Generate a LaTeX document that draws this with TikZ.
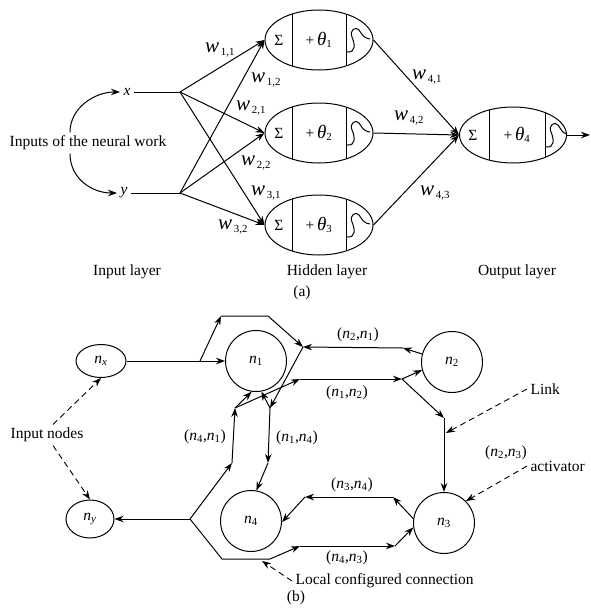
\documentclass[tikz,border=0pt]{standalone}
\usepackage{fontspec}
\setmainfont{Liberation Serif}
\usetikzlibrary{arrows.meta,shapes.geometric}

\tikzset{
  wire/.style={line width=1pt},
  link/.style={line width=1pt,-{Stealth[length=9pt,width=6.5pt]}},
  hint/.style={line width=0.9pt,dash pattern=on 6pt off 4pt,-{Stealth[length=9pt,width=6.5pt]}},
  neuron/.style={draw,line width=1pt,ellipse,minimum width=108pt,minimum height=60pt,inner sep=0pt},
  unit/.style={draw,line width=1pt,circle,minimum size=61pt,inner sep=0pt},
  inode/.style={draw,line width=1pt,ellipse,inner sep=0pt}
}
\newcommand{\wlab}[1]{{\fontsize{21}{21}\selectfont\textit{w}}\textsubscript{\,#1}}
\newcommand{\tlab}[1]{+\,{\fontsize{19}{19}\selectfont\textit{θ}}\textsubscript{#1}}
\newcommand{\nn}[1]{\textit{n}\textsubscript{#1}}

\begin{document}
\begin{tikzpicture}[x=1pt,y=-1pt,font=\fontsize{15.5}{18}\selectfont]
  \useasboundingbox (0,0) rectangle (590,613);

  % (a) the network
  \node (x) at (127,92) {\textit{x}};
  \node (y) at (124,193) {\textit{y}};
  \coordinate (xf) at (180,92);
  \coordinate (yf) at (180,193);
  \draw[wire] (x) -- (xf);
  \draw[wire] (y) -- (yf);

  \foreach \i/\yy in {1/40,2/133,3/225}{
    \node[neuron] (h\i) at (319,\yy) {};
    \begin{scope}
      \clip (319,\yy) ellipse (54pt and 30pt);
      \draw[wire] (292,\yy-30) -- (292,\yy+30);
      \draw[wire] (346,\yy-30) -- (346,\yy+30);
    \end{scope}
    \node at (279,\yy) {Σ};
    \node at (319,\yy) {\tlab{\i}};
    \draw[wire] (347,\yy+12) .. controls (356,\yy+13) and (355,\yy+4) .. (352,\yy-3)
      .. controls (349,\yy-10) and (356,\yy-14) .. (359,\yy-10)
      .. controls (362,\yy-6) and (363,\yy-2) .. (370,\yy-1);
  }

  \node[neuron,minimum width=107pt,minimum height=56pt] (o) at (513,135) {};
  \begin{scope}
    \clip (513,135) ellipse (53.5pt and 28pt);
    \draw[wire] (489,100) -- (489,170);
    \draw[wire] (545,100) -- (545,170);
  \end{scope}
  \node at (473,135) {Σ};
  \node at (517,135) {\tlab{4}};
  \draw[wire] (546,147) .. controls (555,148) and (554,139) .. (551,132)
    .. controls (548,125) and (555,121) .. (558,125)
    .. controls (561,129) and (562,133) .. (567,134);
  \coordinate (out) at (590,135);

  \draw[link] (xf) -- (h1.west);
  \draw[link] (xf) -- (h2.west);
  \draw[link] (xf) -- (h3.west);
  \draw[link] (yf) -- (h1.west);
  \draw[link] (yf) -- (h2.west);
  \draw[link] (yf) -- (h3.west);
  \draw[link] (h1.east) -- (o.west);
  \draw[link] (h2.east) -- (o.west);
  \draw[link] (h3.east) -- (o.west);
  \draw[link] (o.east) -- (out);

  \node at (220,50) {\wlab{1,1}};
  \node at (266,80) {\wlab{1,2}};
  \node at (251,108) {\wlab{2,1}};
  \node at (256,163) {\wlab{2,2}};
  \node at (266,193) {\wlab{3,1}};
  \node at (233,227) {\wlab{3,2}};
  \node at (427,77) {\wlab{4,1}};
  \node at (409,118) {\wlab{4,2}};
  \node at (435,193) {\wlab{4,3}};

  \node (inp) at (88,143) {Inputs of the neural work};
  \draw[link] ([xshift=-18pt]inp.north) .. controls +(0,-25) and +(-25,0) .. (x.west);
  \draw[link] ([xshift=-18pt]inp.south) .. controls +(0,25) and +(-25,0) .. (y.west);

  \node (il) at (127,272) {Input layer};
  \node (hl) at (327,272) {Hidden layer};
  \node (ol) at (517,272) {Output layer};
  \node (pa) at (302,293) {(a)};

  % (b) the links
  \node[inode,minimum width=50pt,minimum height=33pt] (nx) at (101,361) {\nn{\textit{x}}};
  \node[unit] (n1) at (256,361) {\nn{1}};
  \node[unit] (n2) at (452,362) {\nn{2}};
  \node[unit] (n3) at (444,523) {\nn{3}};
  \node[unit] (n4) at (251,521) {\nn{4}};
  \node[inode,minimum width=48pt,minimum height=38pt] (ny) at (90,519) {\nn{\textit{y}}};

  \coordinate (a1) at (200,361);
  \coordinate (a2) at (221,316);
  \coordinate (a3) at (268,316);
  \coordinate (b1) at (403,348);
  \coordinate (b2) at (303,347);
  \coordinate (b3) at (270,408);
  \coordinate (b4) at (268,463);
  \coordinate (c0) at (235,408);
  \coordinate (c1) at (232,463);
  \coordinate (c2) at (300,379);
  \coordinate (c3) at (402,379);
  \coordinate (c4) at (444,418);
  \coordinate (c5) at (446,433);
  \coordinate (d0) at (190,519);
  \coordinate (e1) at (393,497);
  \coordinate (e2) at (305,497);
  \coordinate (f1) at (222,559);
  \coordinate (f2) at (270,559);
  \coordinate (f3) at (300,546);
  \coordinate (f4) at (395,546);
  \coordinate (f5) at (262,561);

  \draw[link] (nx) -- (n1);
  \draw[link] (a1) -- (a2);
  \draw[link] (a2) -- (a3) -- (b2);

  \draw[link] (n2.165) -- (b1);
  \draw[link] (b1) -- (b2);
  \draw[link] (b2) -- (b3);
  \draw[link] (b3) -- (n1.280);
  \draw[link] (b3) -- (b4);
  \draw[link] (b4) -- (n4.80);

  \draw[link] (d0) -- (c1);
  \draw[link] (c1) -- (c0);
  \draw[link] (c0) -- (n1.262);
  \draw[link] (c0) -- (c2);
  \draw[link] (c2) -- (c3);
  \draw[link] (c3) -- (n2.195);
  \draw[link] (c3) -- (c4);
  \draw[link] (c4) -- (n3);

  \draw[link] (n3.172) -- (e1);
  \draw[link] (e1) -- (e2);
  \draw[link] (e2) -- (n4.358);

  \draw[link] (d0) -- (ny);
  \draw[link] (d0) -- (f1) -- (f2) -- (f3);
  \draw[link] (f3) -- (f4);
  \draw[link] (f4) -- (n3.188);

  \node at (358,335) {(\nn{2},\nn{1})};
  \node at (347,393) {(\nn{1},\nn{2})};
  \node at (205,437) {(\nn{4},\nn{1})};
  \node at (297,438) {(\nn{1},\nn{4})};
  \node at (506,453) {(\nn{2},\nn{3})};
  \node at (352,485) {(\nn{3},\nn{4})};
  \node at (347,558) {(\nn{4},\nn{3})};

  \node (in) at (47,435) {Input nodes};
  \node[anchor=west] (lnk) at (527,389) {Link};
  \node[anchor=west] (act) at (527,466) {activator};
  \node[anchor=west] (loc) at (292,581) {Local configured connection};
  \node (pb) at (296,598) {(b)};

  \draw[hint] ([xshift=6pt]in.north) -- (nx.south);
  \draw[hint] ([xshift=6pt]in.south) -- (ny.north);
  \draw[hint] (lnk.west) -- (c5);
  \draw[hint] (act.west) -- (n3.45);
  \draw[hint] (loc.west) -- (f5);
\end{tikzpicture}
\end{document}
